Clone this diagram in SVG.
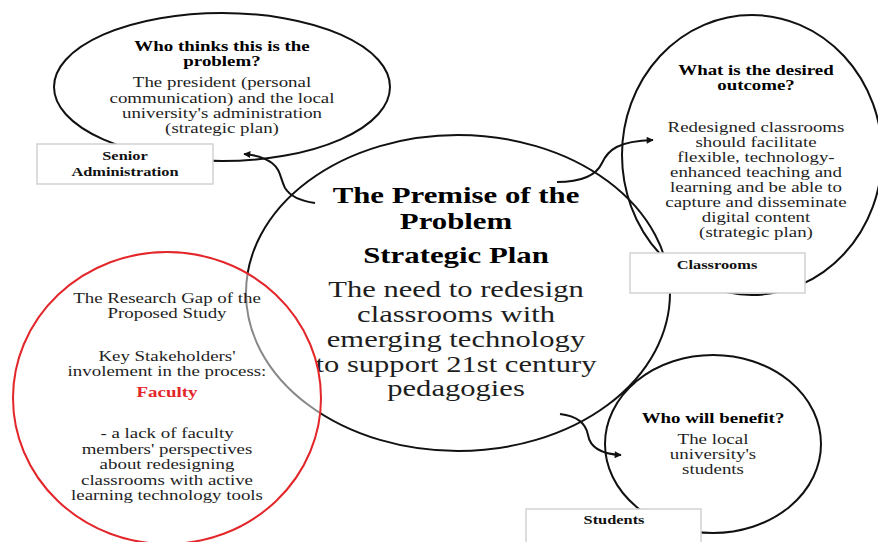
<svg xmlns="http://www.w3.org/2000/svg" width="878" height="542" viewBox="0 0 878 542" font-family="Liberation Serif, serif">
  <defs>
    <marker id="arrow" viewBox="0 0 10 10" refX="9" refY="5" markerWidth="9" markerHeight="7" markerUnits="userSpaceOnUse" orient="auto">
      <path d="M0,0 L10,5 L0,10 z" fill="#111"/>
    </marker>
    <style>
      .ring { fill: none; stroke: #111; stroke-width: 2; }
      .gap { fill: #fff; fill-opacity: 0.5; stroke: #e3262a; stroke-width: 2; }
      .box { fill: #fff; stroke: #d2d2d2; stroke-width: 1.5; }
      .link { fill: none; stroke: #111; stroke-width: 2; marker-end: url(#arrow); }
      .t, .h, .lab, .big, .bigb, .red { font-family: 'Liberation Serif', 'Times New Roman', serif; text-anchor: middle; }
      .t { font-size: 15px; fill: #1e1e1e; }
      .h { font-size: 15px; font-weight: bold; fill: #000; }
      .lab { font-size: 13px; font-weight: bold; fill: #111; }
      .big { font-size: 23px; fill: #1e1e1e; }
      .bigb { font-size: 23px; font-weight: bold; fill: #000; }
      .red { font-size: 15px; font-weight: bold; fill: #e3262a; }
    </style>
  </defs>

  <!-- central premise -->
  <g id="premise">
    <ellipse class="ring" cx="458" cy="293" rx="212" ry="158"/>
    <g transform="translate(456 0) scale(1.34 1)">
      <text class="bigb" x="0" y="203">The Premise of the</text>
      <text class="bigb" x="0" y="229">Problem</text>
      <text class="bigb" x="0" y="263">Strategic Plan</text>
    </g>
    <g transform="translate(456 0) scale(1.33 1)">
      <text class="big" x="0" y="297">The need to redesign</text>
      <text class="big" x="0" y="322">classrooms with</text>
      <text class="big" x="0" y="347">emerging technology</text>
      <text class="big" x="0" y="372">to support 21st century</text>
      <text class="big" x="0" y="396">pedagogies</text>
    </g>
  </g>

  <!-- who thinks this is the problem -->
  <g id="problem-owner">
    <ellipse class="ring" cx="222" cy="87" rx="168" ry="74"/>
    <g transform="translate(222 0) scale(1.26 1)">
      <text class="h" x="0" y="51">Who thinks this is the</text>
      <text class="h" x="0" y="66">problem?</text>
      <text class="t" x="0" y="87">The president (personal</text>
      <text class="t" x="0" y="103">communication) and the local</text>
      <text class="t" x="0" y="118">university's administration</text>
      <text class="t" x="0" y="133">(strategic plan)</text>
    </g>
  </g>

  <!-- desired outcome -->
  <g id="outcome">
    <ellipse class="ring" cx="752" cy="155" rx="130" ry="140"/>
    <g transform="translate(756 0) scale(1.26 1)">
      <text class="h" x="0" y="75">What is the desired</text>
      <text class="h" x="0" y="90">outcome?</text>
      <text class="t" x="0" y="132">Redesigned classrooms</text>
      <text class="t" x="0" y="147">should facilitate</text>
      <text class="t" x="0" y="162">flexible, technology-</text>
      <text class="t" x="0" y="177">enhanced teaching and</text>
      <text class="t" x="0" y="192">learning and be able to</text>
      <text class="t" x="0" y="207">capture and disseminate</text>
      <text class="t" x="0" y="222">digital content</text>
      <text class="t" x="0" y="237">(strategic plan)</text>
    </g>
  </g>

  <!-- who will benefit -->
  <g id="benefit">
    <ellipse class="ring" cx="713" cy="444" rx="108" ry="89"/>
    <g transform="translate(713 0) scale(1.26 1)">
      <text class="h" x="0" y="423">Who will benefit?</text>
      <text class="t" x="0" y="444">The local</text>
      <text class="t" x="0" y="459">university's</text>
      <text class="t" x="0" y="474">students</text>
    </g>
  </g>

  <!-- research gap -->
  <g id="research-gap">
    <ellipse class="gap" cx="167" cy="398" rx="154" ry="146"/>
    <g transform="translate(167 0) scale(1.26 1)">
      <text class="t" x="0" y="303">The Research Gap of the</text>
      <text class="t" x="0" y="318">Proposed Study</text>
      <text class="t" x="0" y="361">Key Stakeholders'</text>
      <text class="t" x="0" y="376">involement in the process:</text>
      <text class="red" x="0" y="397">Faculty</text>
      <text class="t" x="0" y="438">- a lack of faculty</text>
      <text class="t" x="0" y="454">members' perspectives</text>
      <text class="t" x="0" y="469">about redesigning</text>
      <text class="t" x="0" y="485">classrooms with active</text>
      <text class="t" x="0" y="500">learning technology tools</text>
    </g>
  </g>

  <!-- labels -->
  <g id="senior-administration">
    <rect class="box" x="37" y="144" width="176" height="40"/>
    <g transform="translate(125 0) scale(1.26 1)">
      <text class="lab" x="0" y="160">Senior</text>
      <text class="lab" x="0" y="176">Administration</text>
    </g>
  </g>
  <g id="classrooms">
    <rect class="box" x="630" y="253" width="175" height="40"/>
    <g transform="translate(717 0) scale(1.26 1)">
      <text class="lab" x="0" y="269">Classrooms</text>
    </g>
  </g>
  <g id="students">
    <rect class="box" x="526" y="509" width="175" height="40"/>
    <g transform="translate(614 0) scale(1.26 1)">
      <text class="lab" x="0" y="524">Students</text>
    </g>
  </g>

  <!-- connectors -->
  <g id="connectors">
    <path class="link" d="M315,203 C300,201 290,196 285,188 C280,178 281,170 272,163 C264,157 256,155 244,154"/>
    <path class="link" d="M557,182 C582,182 596,176 602,163 C608,150 618,141 653,140"/>
    <path class="link" d="M560,414 C578,416 586,424 588,435 C590,447 600,454 621,455"/>
  </g>
</svg>
